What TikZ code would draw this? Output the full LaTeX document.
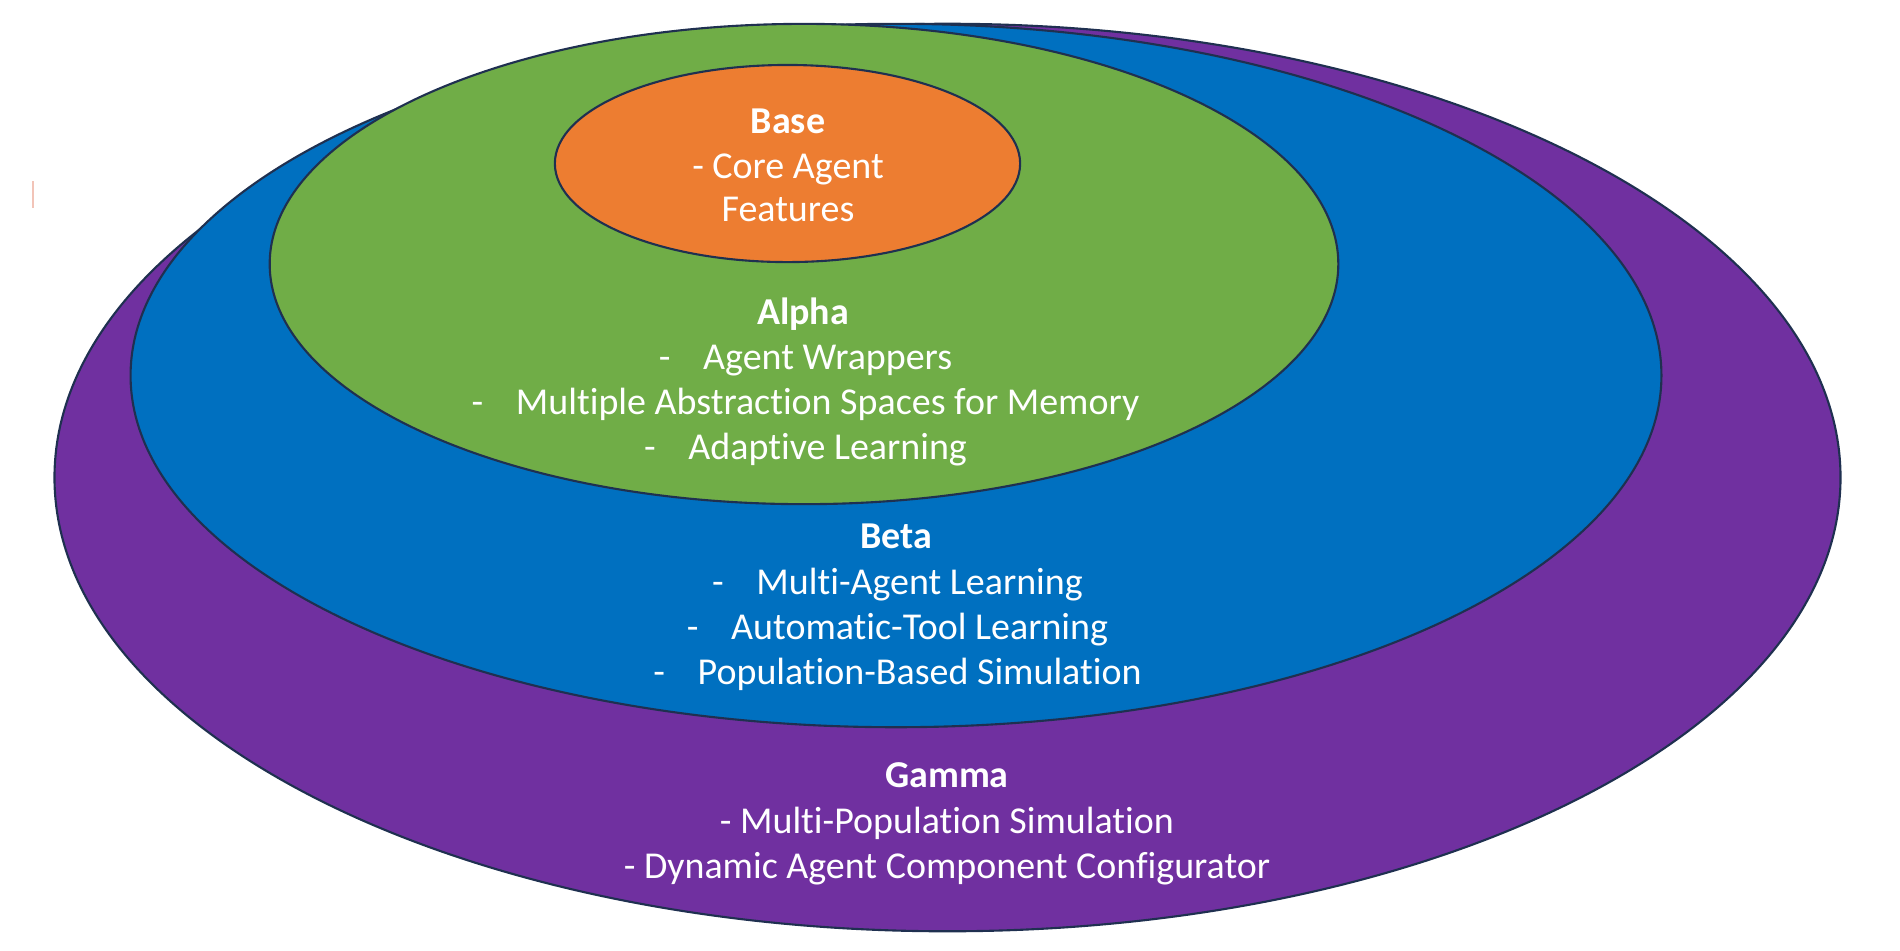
\documentclass[tikz,border=0pt]{standalone}
\usepackage{fontspec}
\setmainfont[Ligatures={NoCommon}]{Carlito}
\definecolor{cgamma}{HTML}{7030A0}
\definecolor{cbeta}{HTML}{0070C0}
\definecolor{calpha}{HTML}{70AD47}
\definecolor{cbase}{HTML}{ED7D31}
\definecolor{edge}{HTML}{1F3050}
\definecolor{tick}{HTML}{F2C4B8}
\tikzset{
  ring/.style={draw=edge, line width=0.6pt},
  lbl/.style={text=white, anchor=base, inner sep=0pt, font=\fontsize{10.8}{12.6}\selectfont},
  ttl/.style={lbl, font=\fontsize{10.8}{12.6}\selectfont\bfseries},
}
\newcommand{\dashitem}[1]{-\hspace{9.3pt}#1}
\begin{document}
\begin{tikzpicture}[x=0.01cm,y=-0.01cm]
\useasboundingbox (0,0) rectangle (1900,950);
% layers
\draw[ring, fill=cgamma] (947.5,477.5) ellipse [x radius=8.925cm, y radius=4.535cm];
\draw[ring, fill=cbeta] (896,375.5) ellipse [x radius=7.65cm, y radius=3.515cm];
\draw[ring, fill=calpha] (804,264) ellipse [x radius=5.34cm, y radius=2.40cm];
\draw[ring, fill=cbase] (787.5,163.5) ellipse [x radius=2.325cm, y radius=0.985cm];
% small mark
\draw[tick, line width=0.6pt] (33,181) -- (33,208);
% Base
\node[ttl] (baseT) at (788,133) {Base};
\node[lbl] (base1) at (788,178) {- Core Agent};
\node[lbl] (base2) at (788,221) {Features};
% Alpha
\node[ttl] (alphaT) at (803,324) {Alpha};
\node[lbl] (alpha1) at (805.5,369) {\dashitem{Agent Wrappers}};
\node[lbl] (alpha2) at (805.5,414) {\dashitem{Multiple Abstraction Spaces for Memory}};
\node[lbl] (alpha3) at (805.5,459) {\dashitem{Adaptive Learning}};
% Beta
\node[ttl] (betaT) at (896,548) {Beta};
\node[lbl] (beta1) at (897.5,594) {\dashitem{Multi-Agent Learning}};
\node[lbl] (beta2) at (897.5,639) {\dashitem{Automatic-Tool Learning}};
\node[lbl] (beta3) at (897.5,684) {\dashitem{Population-Based Simulation}};
% Gamma
\node[ttl] (gammaT) at (947,787) {Gamma};
\node[lbl] (gamma1) at (947,833) {- Multi-Population Simulation};
\node[lbl] (gamma2) at (947,878) {- Dynamic Agent Component Configurator};
\end{tikzpicture}
\end{document}
